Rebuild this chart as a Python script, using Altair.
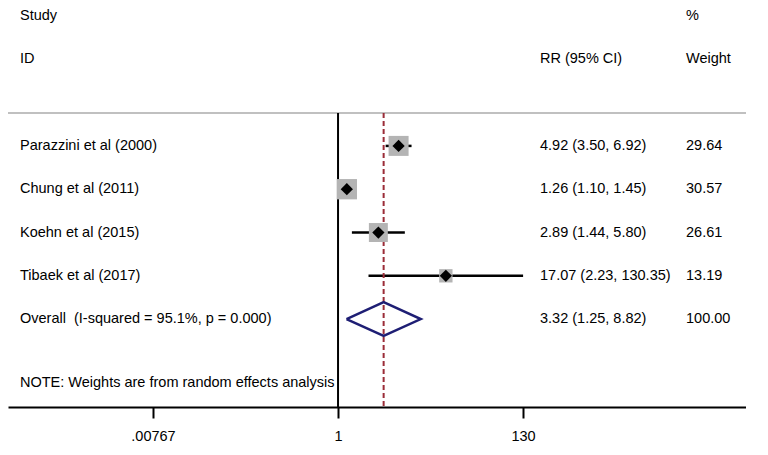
import altair as alt
import pandas as pd

# ---- data ----
studies = ["Parazzini et al (2000)", "Chung et al (2011)", "Koehn et al (2015)", "Tibaek et al (2017)"]
rr = [4.92, 1.26, 2.89, 17.07]
lo = [3.50, 1.10, 1.44, 2.23]
hi = [6.92, 1.45, 5.80, 130.35]
weights = [29.64, 30.57, 26.61, 13.19]
rows = [3, 4, 5, 6]

overall_label = "Overall\u00a0\u00a0(I-squared = 95.1%, p = 0.000)"
overall_rr, overall_lo, overall_hi = 3.32, 1.25, 8.82
overall_weight = 100.00
overall_row = 7

note = "NOTE: Weights are from random effects analysis"
note_row = 8.47
header_rows = [0, 1]
header_left = ["Study", "ID"]
header_mid = ["", "RR (95% CI)"]
header_right = ["%", "Weight"]
sep_row = 2.24

tick_values = [0.00767, 1, 130]
tick_labels = [".00767", "1", "130"]

FONT = "Liberation Sans"
FS = 14.5
W, H = 738, 399

df = pd.DataFrame({"study": studies, "rr": rr, "lo": lo, "hi": hi, "w": weights, "row": rows})
df["ci"] = [f"{a:.2f} ({b:.2f}, {c:.2f})" for a, b, c in zip(rr, lo, hi)]
df["wt"] = [f"{v:.2f}" for v in weights]
df["area"] = df["w"] * 13.5

ov = pd.DataFrame({"study": [overall_label], "row": [overall_row],
                   "ci": [f"{overall_rr:.2f} ({overall_lo:.2f}, {overall_hi:.2f})"],
                   "wt": [f"{overall_weight:.2f}"]})
labels = pd.concat([df[["study", "row", "ci", "wt"]], ov], ignore_index=True)

h = 0.39
dia = pd.DataFrame({
    "x": [overall_lo, overall_rr, overall_hi, overall_rr, overall_lo],
    "y": [overall_row, overall_row - h, overall_row, overall_row + h, overall_row],
    "o": [0, 1, 2, 3, 4],
})

hdr = pd.DataFrame({"row": header_rows, "left": header_left, "mid": header_mid, "right": header_right})

xscale = alt.Scale(type="log", domain=[0.000169, 46000], nice=False, zero=False)
yscale = alt.Scale(domain=[-0.185, 9.03], reverse=True, nice=False, zero=False)

label_expr = "[" + ",".join(f"'{t}'" for t in tick_labels) + "][indexof([" + ",".join(str(v) for v in tick_values) + "], datum.value)]"

xaxis = alt.Axis(values=tick_values, labelExpr=label_expr, title=None, grid=False,
                 domainColor="black", domainWidth=2, tickColor="black", tickWidth=2,
                 tickSize=11, labelPadding=11, labelFont=FONT, labelFontSize=FS,
                 labelColor="black", labelFlush=False)

base = alt.Chart(df)

ci = base.mark_rule(color="black", strokeWidth=2.5).encode(
    x=alt.X("lo:Q", scale=xscale, axis=xaxis),
    x2="hi:Q",
    y=alt.Y("row:Q", scale=yscale, axis=None),
)

sep = alt.Chart(pd.DataFrame({"r": [sep_row]})).mark_rule(color="#c0c0c0", strokeWidth=2).encode(
    y=alt.Y("r:Q", scale=yscale, axis=None), x=alt.value(0), x2=alt.value(W))

null_line = alt.Chart(pd.DataFrame({"v": [1], "r": [sep_row], "r2": [9.03]})).mark_rule(
    color="black", strokeWidth=2).encode(
    x=alt.X("v:Q", scale=xscale), y=alt.Y("r:Q", scale=yscale), y2="r2:Q")

ov_line = alt.Chart(pd.DataFrame({"v": [overall_rr], "r": [sep_row], "r2": [9.03]})).mark_rule(
    color="#9b2c38", strokeWidth=2, strokeDash=[5, 3]).encode(
    x=alt.X("v:Q", scale=xscale), y=alt.Y("r:Q", scale=yscale), y2="r2:Q")

boxes = base.mark_square(color="#b4b4b4", opacity=1).encode(
    x=alt.X("rr:Q", scale=xscale), y=alt.Y("row:Q", scale=yscale),
    size=alt.Size("area:Q", scale=None))

pts = base.mark_point(shape="diamond", filled=True, color="black", size=150, opacity=1).encode(
    x=alt.X("rr:Q", scale=xscale), y=alt.Y("row:Q", scale=yscale))

diamond = alt.Chart(dia).mark_line(color="#1e1e74", strokeWidth=2.5).encode(
    x=alt.X("x:Q", scale=xscale), y=alt.Y("y:Q", scale=yscale), order="o:Q")

def txt(data, field, xpix):
    return alt.Chart(data).mark_text(align="left", baseline="middle", font=FONT,
                                     fontSize=FS, color="black").encode(
        x=alt.value(xpix), y=alt.Y("row:Q", scale=yscale), text=f"{field}:N")

t_study = txt(labels, "study", 12)
t_ci = txt(labels, "ci", 532)
t_wt = txt(labels, "wt", 678)
h_left = txt(hdr, "left", 12)
h_mid = txt(hdr, "mid", 532)
h_right = txt(hdr, "right", 678)
t_note = txt(pd.DataFrame({"row": [note_row], "n": [note]}), "n", 12)

chart = alt.layer(
    ci, sep, null_line, ov_line, boxes, pts, diamond,
    t_study, t_ci, t_wt, h_left, h_mid, h_right, t_note,
).properties(
    width=W, height=H,
    padding={"left": 0, "top": 0, "right": 0, "bottom": 40},
    autosize=alt.AutoSizeParams(type="none"),
).configure_view(strokeWidth=0)

chart.save("out.html", embed_options={"renderer": "svg", "actions": False})
